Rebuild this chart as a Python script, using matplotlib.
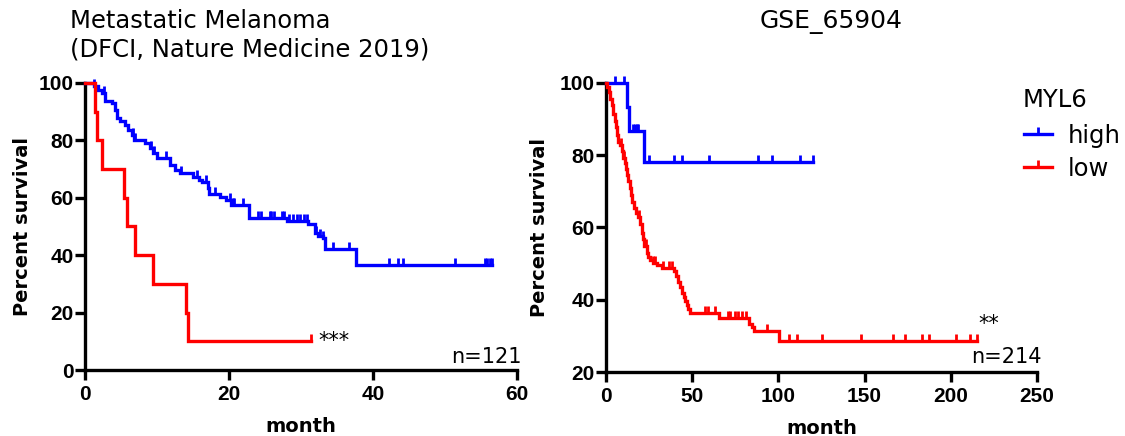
import numpy as np
import matplotlib
matplotlib.use("Agg")
import matplotlib.pyplot as plt
from matplotlib.path import Path
from matplotlib.lines import Line2D

# ---------------- data ----------------
# Left panel: Metastatic Melanoma (DFCI)
L_high_t = [1.3, 1.85, 2.3, 2.8, 3.7, 4.2, 4.4, 4.9, 5.6, 6.0, 6.5, 6.85, 8.3, 9.0,
            9.5, 10.0, 11.8, 12.5, 13.2, 15.0, 15.8, 16.3, 17.1, 17.2, 18.75, 19.6,
            20.3, 22.8, 28.0, 31.0, 31.9, 32.4, 33.0, 33.3, 37.7]
L_high_s = [98.8, 97.7, 96.5, 93.6, 93.0, 90.7, 87.8, 86.6, 85.5, 83.7, 82.0, 80.2,
            79.1, 77.4, 75.6, 73.9, 71.5, 69.8, 68.6, 67.4, 66.3, 65.6, 63.4, 61.3,
            60.2, 59.2, 57.5, 53.1, 52.0, 50.8, 47.6, 46.8, 45.9, 42.0, 36.6]
L_high_cens = [1.3, 2.7, 6.6, 6.9, 9.1, 9.6, 11.3, 13.3, 15.5, 16.8, 18.0, 20.2, 20.5,
               20.7, 22.0, 24.0, 24.5, 25.7, 25.9, 26.2, 27.4, 27.7, 28.4, 28.9, 29.4,
               29.9, 30.4, 30.8, 32.1, 32.6, 33.1, 34.4, 36.6, 42.2, 43.5, 44.2, 51.4,
               55.6, 55.9, 56.2, 56.5]
L_high_end = 56.5

L_low_t = [1.44, 1.68, 2.33, 5.4, 5.9, 7.0, 9.45, 14.06, 14.26]
L_low_s = [90, 80, 70, 60, 50, 40, 30, 20, 10]
L_low_cens = [31.4]
L_low_end = 31.4

# Right panel: GSE_65904
R_high_t = [12.1, 13.6, 21.8]
R_high_s = [93.3, 86.7, 78.0]
R_high_cens = [5.1, 10.5, 15.8, 16.8, 17.8, 18.8, 24.8, 39.5, 43.8, 59.8, 88.0,
               96.3, 112.4, 119.8]
R_high_end = 119.8

R_low_t = [0.8, 1.5, 2.5, 3.2, 4.2, 5.0, 5.7, 6.3, 7.0, 8.2, 9.2, 9.9, 10.9, 11.7,
           12.4, 13.0, 13.8, 14.7, 15.3, 16.1, 17.2, 18.4, 19.7, 20.6, 21.4, 22.2,
           23.5, 24.5, 25.6, 27.3, 29.5, 32.2, 39.6, 40.5, 41.8, 43.0, 43.8, 45.0,
           45.9, 47.0, 47.8, 49.0, 65.5, 82.8, 84.6, 86.0, 100.4]
R_low_s = [98.8, 97.5, 95.5, 93.8, 91.5, 89.6, 87.7, 85.5, 83.8, 82.8, 81.3, 79.3,
           77.9, 76.3, 74.5, 72.9, 71.0, 69.0, 67.0, 65.5, 64.0, 62.8, 61.0, 58.6,
           56.8, 54.8, 53.0, 51.8, 51.0, 50.3, 49.5, 48.8, 47.9, 46.6, 44.9, 43.6,
           42.0, 40.8, 39.7, 38.5, 37.4, 36.4, 35.0, 33.4, 32.4, 31.4, 28.6]
R_low_cens = [8.5, 10.5, 19.0, 23.0, 27.3, 28.3, 33.1, 36.6, 38.0, 57.3, 59.2, 63.1,
              70.8, 71.8, 74.7, 76.7, 78.6, 81.0, 93.4, 106.2, 110.5, 125.0, 147.8,
              166.5, 173.3, 183.5, 187.4, 202.8, 211.0, 215.2]
R_low_end = 215.2

groups = ["high", "low"]
colors = {"high": "#0000FF", "low": "#FF0000"}

# ---------------- style ----------------
TICK_FONT = "Liberation Sans"
TEXT_FONT = "DejaVu Sans"
LW = 2.4
tick_marker = Path([(0, 0), (0, 1)])

W, H = 1125, 436
fig = plt.figure(figsize=(W / 100, H / 100), dpi=100)


def fx(px):
    return px / W


def fy(py):
    return 1 - py / H


def km_curve(ax, t, s, cens, end, color):
    xs = [0] + list(t) + [end]
    ys = [100] + list(s) + [s[-1]]
    ax.step(xs, ys, where="post", color=color, lw=LW, clip_on=False,
            solid_joinstyle="miter", zorder=3)
    tt = np.asarray(t)
    levels = np.asarray([100] + list(s))
    idx = np.searchsorted(tt, np.asarray(cens), side="right")
    ax.plot(cens, levels[idx], linestyle="none", marker=tick_marker,
            markersize=9.5, markeredgewidth=2.0, color=color, clip_on=False,
            zorder=3)


def style_axes(ax, xticks, yticks, xlim, ylim, ylabelpad):
    ax.set_xlim(*xlim)
    ax.set_ylim(*ylim)
    ax.set_xticks(xticks)
    ax.set_yticks(yticks)
    for sp in ["top", "right"]:
        ax.spines[sp].set_visible(False)
    for sp in ["left", "bottom"]:
        ax.spines[sp].set_linewidth(2.4)
        ax.spines[sp].set_color("black")
    ax.tick_params(axis="both", direction="out", length=7, width=2.4, color="black")
    ax.tick_params(axis="y", pad=1)
    ax.tick_params(axis="x", pad=3.5)
    for lab in ax.get_xticklabels() + ax.get_yticklabels():
        lab.set_fontfamily(TICK_FONT)
        lab.set_fontweight("bold")
        lab.set_fontsize(15)
    ax.set_xlabel("month", fontfamily=TEXT_FONT, fontweight="bold", fontsize=14,
                  labelpad=9.5)
    ax.set_ylabel("Percent survival", fontfamily=TEXT_FONT, fontweight="bold",
                  fontsize=14, labelpad=ylabelpad)


# ---------------- left panel ----------------
axL = fig.add_axes([fx(85), fy(370), fx(517) - fx(85), fy(83) - fy(370)])
km_curve(axL, L_high_t, L_high_s, L_high_cens, L_high_end, colors["high"])
km_curve(axL, L_low_t, L_low_s, L_low_cens, L_low_end, colors["low"])
style_axes(axL, [0, 20, 40, 60], [0, 20, 40, 60, 80, 100], (0, 60), (0, 100), 5)
axL.text(32.4, 10.2, "***", fontfamily=TEXT_FONT, fontsize=15, ha="left",
         va="center")
axL.text(60.7, 4.5, "n=121", fontfamily=TEXT_FONT, fontsize=15, ha="right",
         va="center")

# ---------------- right panel ----------------
axR = fig.add_axes([fx(606), fy(372), fx(1037) - fx(606), fy(83) - fy(372)])
km_curve(axR, R_high_t, R_high_s, R_high_cens, R_high_end, colors["high"])
km_curve(axR, R_low_t, R_low_s, R_low_cens, R_low_end, colors["low"])
style_axes(axR, [0, 50, 100, 150, 200, 250], [20, 40, 60, 80, 100], (0, 250),
           (20, 100), 8)
axR.text(216, 33.3, "**", fontfamily=TEXT_FONT, fontsize=15, ha="left",
         va="center")
axR.text(252.5, 24.2, "n=214", fontfamily=TEXT_FONT, fontsize=15, ha="right",
         va="center")

# ---------------- titles ----------------
fig.text(fx(70), fy(28.5), "Metastatic Melanoma", fontfamily=TEXT_FONT,
         fontsize=17.5, ha="left", va="baseline")
fig.text(fx(70), fy(56.5), "(DFCI, Nature Medicine 2019)", fontfamily=TEXT_FONT,
         fontsize=17.5, ha="left", va="baseline")
fig.text(fx(831), fy(28.5), "GSE_65904", fontfamily=TEXT_FONT, fontsize=18,
         ha="center", va="baseline")

# ---------------- legend ----------------
fig.text(fx(1023), fy(107), "MYL6", fontfamily=TEXT_FONT, fontsize=17.5,
         ha="left", va="baseline")
handles = [Line2D([0], [0], color=colors[g], lw=LW, marker=tick_marker,
                  markersize=9.5, markeredgewidth=2.0) for g in groups]
leg = fig.legend(handles, groups, loc="upper left",
                 bbox_to_anchor=(fx(1024), fy(124)), frameon=False,
                 prop={"family": TEXT_FONT, "size": 17.5},
                 handlelength=1.15, handletextpad=0.66, labelspacing=0.37,
                 borderpad=0, borderaxespad=0, numpoints=1)

fig.savefig("out.png", dpi=100)
